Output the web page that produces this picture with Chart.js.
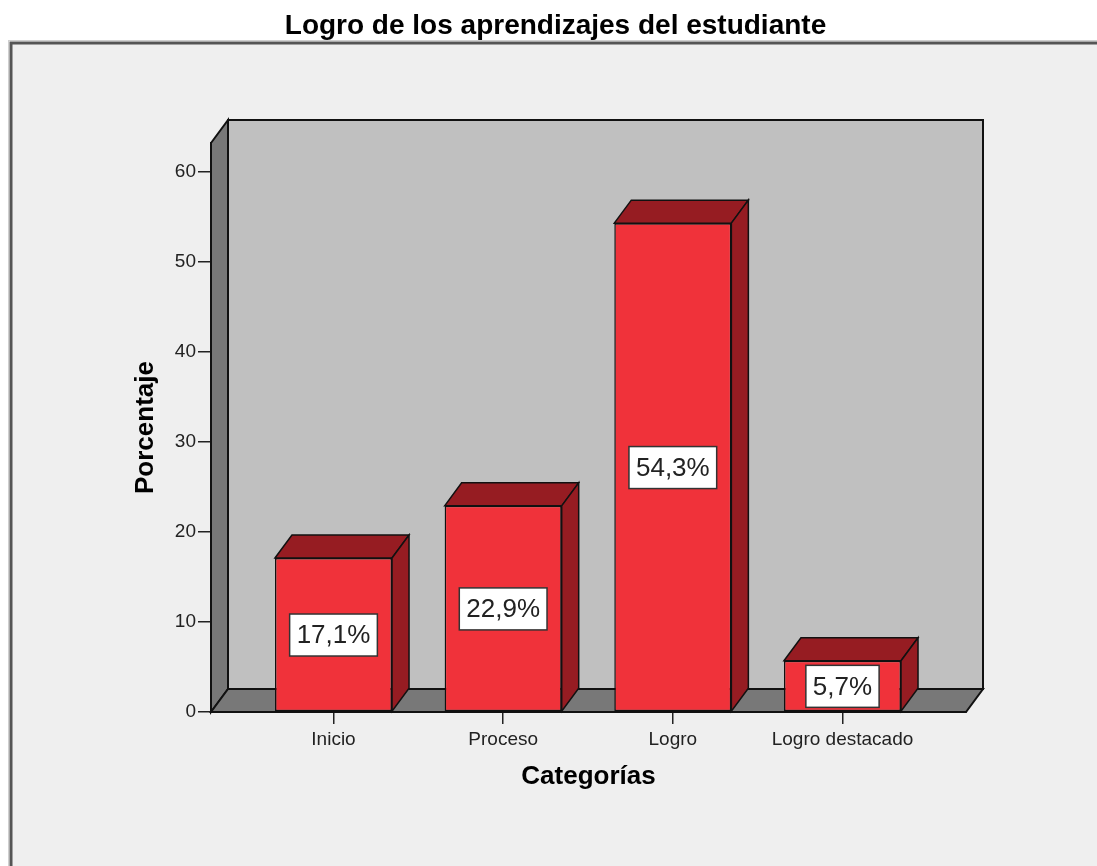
<!DOCTYPE html>
<html>
<head>
<meta charset="utf-8">
<script src="https://cdn.jsdelivr.net/npm/chart.js@4/dist/chart.umd.min.js"></script>
<style>
  html, body { margin: 0; padding: 0; background: #ffffff; }
  #wrap { width: 1097px; height: 866px; }
</style>
</head>
<body>
<div id="wrap"><canvas id="c" width="1097" height="866"></canvas></div>
<script>
// ---- data ----
const chartTitle = 'Logro de los aprendizajes del estudiante';
const categories = ['Inicio', 'Proceso', 'Logro', 'Logro destacado'];
const percentages = [17.1, 22.9, 54.3, 5.7];
const yTickValues = [0, 10, 20, 30, 40, 50, 60];
const xAxisTitle = 'Categorías';
const yAxisTitle = 'Porcentaje';

// ---- style ----
const FONT = '"Liberation Sans", Arial, sans-serif';
const DX = 17, DY = -23;
const RED_FRONT = '#F0323A';
const RED_DARK = '#961C22';
const WALL_BACK = '#C0C0C0';
const WALL_SIDE = '#787878';
const PANEL_BG = '#EFEFEF';

function fmt(v) { return v.toFixed(1).replace('.', ',') + '%'; }

function poly(ctx, pts, fill, stroke, lw) {
  ctx.beginPath();
  ctx.moveTo(pts[0][0], pts[0][1]);
  for (let i = 1; i < pts.length; i++) ctx.lineTo(pts[i][0], pts[i][1]);
  ctx.closePath();
  ctx.fillStyle = fill; ctx.fill();
  ctx.lineWidth = lw; ctx.strokeStyle = stroke; ctx.lineJoin = 'miter'; ctx.stroke();
}

const frame3d = {
  id: 'frame3d',
  afterLayout(chart) {
    // centre the main title over the whole panel
    if (chart.titleBlock) { chart.titleBlock.left = 14; chart.titleBlock.right = 1097; }
  },
  beforeDraw(chart) {
    const ctx = chart.ctx;
    const a = chart.chartArea;
    ctx.save();
    // panel
    ctx.fillStyle = PANEL_BG;
    ctx.fillRect(11, 43, 1200, 900);
    ctx.lineWidth = 1; ctx.strokeStyle = '#cfcfcf';
    ctx.strokeRect(8.5, 40.5, 1200, 900);
    ctx.lineWidth = 3; ctx.strokeStyle = '#555555';
    ctx.strokeRect(11, 43, 1200, 900);
    const L = a.left, R = a.right, T = a.top, B = a.bottom;
    // back wall
    poly(ctx, [[L + DX, T + DY], [R + DX, T + DY], [R + DX, B + DY], [L + DX, B + DY]], WALL_BACK, '#111', 2);
    // left wall
    poly(ctx, [[L, T], [L + DX, T + DY], [L + DX, B + DY], [L, B]], WALL_SIDE, '#111', 2);
    // floor
    poly(ctx, [[L, B], [L + DX, B + DY], [R + DX, B + DY], [R, B]], WALL_SIDE, '#111', 2);
    ctx.restore();
  },
  afterDatasetsDraw(chart) {
    const ctx = chart.ctx;
    const meta = chart.getDatasetMeta(0);
    const yScale = chart.scales.y;
    ctx.save();
    meta.data.forEach((bar, i) => {
      const p = bar.getProps(['x', 'y', 'base', 'width'], true);
      const l = p.x - p.width / 2, r = p.x + p.width / 2;
      // top face
      poly(ctx, [[l, p.y], [l + DX, p.y + DY], [r + DX, p.y + DY], [r, p.y]], RED_DARK, '#111', 1.5);
      // side face
      poly(ctx, [[r, p.y], [r + DX, p.y + DY], [r + DX, p.base + DY], [r, p.base]], RED_DARK, '#111', 1.5);
    });
    // value labels
    ctx.font = '26px ' + FONT;
    ctx.textAlign = 'center';
    ctx.textBaseline = 'middle';
    meta.data.forEach((bar, i) => {
      const v = percentages[i];
      const txt = fmt(v);
      const cx = bar.x;
      const cy = yScale.getPixelForValue(v / 2);
      const w = ctx.measureText(txt).width + 14;
      const h = 42;
      ctx.fillStyle = '#ffffff';
      ctx.fillRect(cx - w / 2, cy - h / 2, w, h);
      ctx.lineWidth = 1.5; ctx.strokeStyle = '#333';
      ctx.strokeRect(cx - w / 2, cy - h / 2, w, h);
      ctx.fillStyle = '#222';
      ctx.fillText(txt, cx, cy + 1);
    });
    ctx.restore();
  }
};

const ctx = document.getElementById('c').getContext('2d');
new Chart(ctx, {
  type: 'bar',
  data: {
    datasets: [{
      data: categories.map((c, i) => ({ x: i, y: percentages[i] })),
      backgroundColor: RED_FRONT,
      borderColor: '#111',
      borderWidth: 1.5,
      borderSkipped: false,
      categoryPercentage: 0.69,
      barPercentage: 1
    }]
  },
  plugins: [frame3d],
  options: {
    responsive: false,
    animation: false,
    devicePixelRatio: 1,
    layout: { padding: { left: 0, right: 131, top: 0, bottom: 0 } },
    plugins: {
      legend: { display: false },
      tooltip: { enabled: false },
      title: {
        display: true,
        text: chartTitle,
        color: '#000',
        font: { family: FONT, size: 28, weight: 'bold', lineHeight: 1.2 },
        padding: { top: 9, bottom: 100.4 }
      }
    },
    scales: {
      x: {
        type: 'linear',
        min: -0.722,
        max: 3.728,
        offset: false,
        afterBuildTicks: s => { s.ticks = categories.map((c, i) => ({ value: i })); },
        afterFit: s => { s.height = 154; },
        grid: { offset: false, drawOnChartArea: false, drawTicks: true, tickLength: 12, color: '#222', lineWidth: 1.5 },
        border: { display: true, color: '#111', width: 2 },
        ticks: {
          autoSkip: false, maxRotation: 0, padding: 4, color: '#222',
          font: { family: FONT, size: 19 },
          callback: v => categories[v]
        },
        title: {
          display: true, text: xAxisTitle, color: '#000',
          font: { family: FONT, size: 26, weight: 'bold', lineHeight: 1.2 },
          padding: { top: 0, bottom: 74 }
        }
      },
      y: {
        min: 0,
        max: 63.2,
        afterBuildTicks: s => { s.ticks = yTickValues.map(v => ({ value: v })); },
        afterFit: s => { s.width = 211; },
        grid: { drawOnChartArea: false, drawTicks: true, tickLength: 13, color: '#222', lineWidth: 1.5 },
        border: { display: true, color: '#111', width: 2 },
        ticks: { padding: 2, color: '#222', font: { family: FONT, size: 19 } },
        title: {
          display: true, text: yAxisTitle, color: '#000',
          font: { family: FONT, size: 26, weight: 'bold', lineHeight: 1.2 },
          padding: { top: 130, bottom: 0 }
        }
      }
    }
  }
});
</script>
</body>
</html>
